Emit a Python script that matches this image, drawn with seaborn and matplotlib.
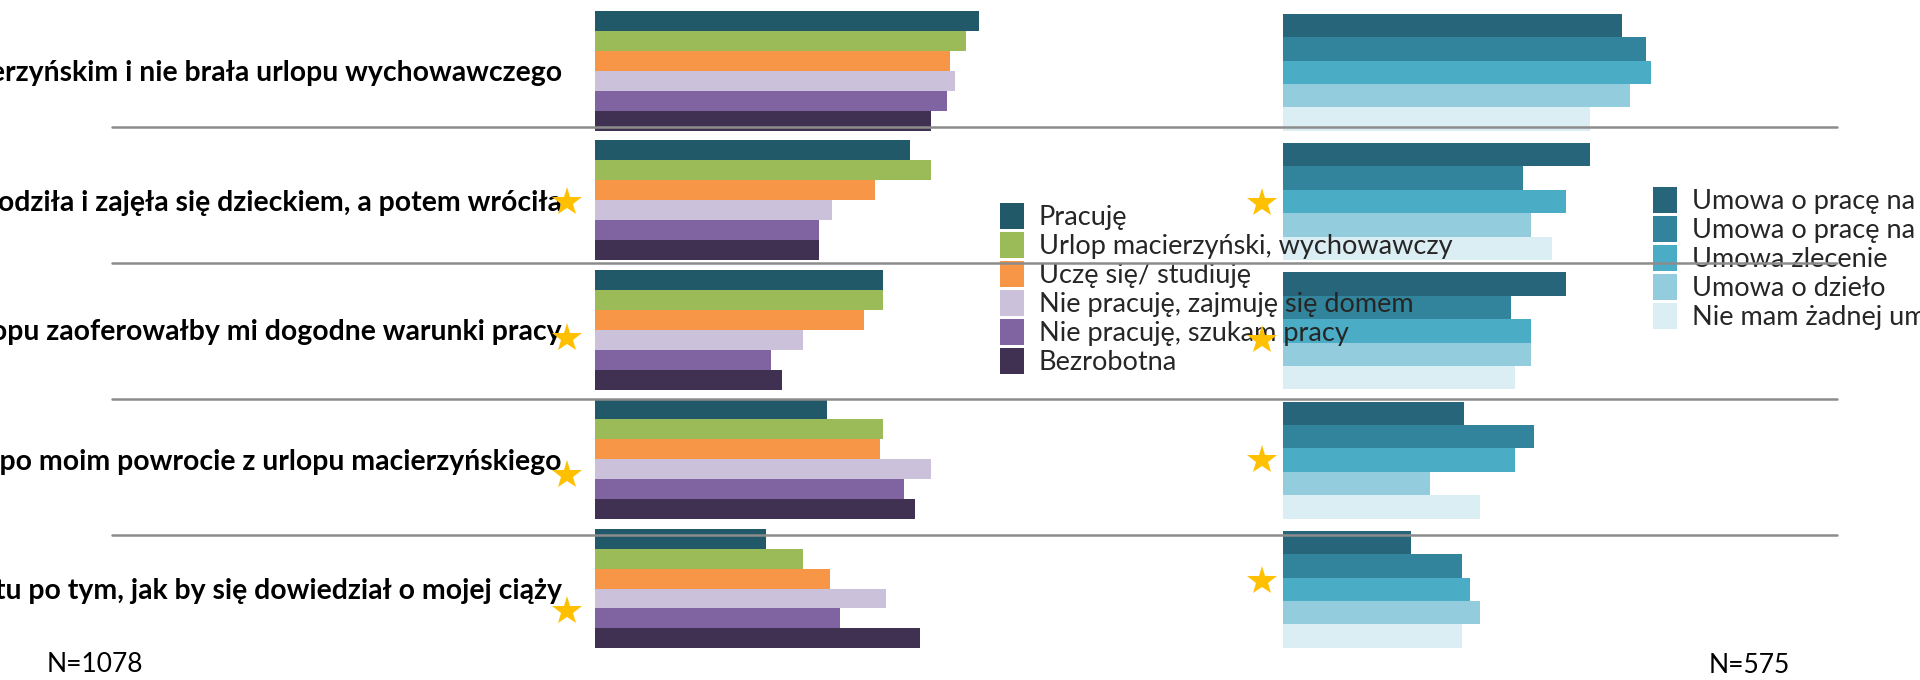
import numpy as np
import pandas as pd
import matplotlib
matplotlib.use("Agg")
import matplotlib.pyplot as plt
import seaborn as sns
from matplotlib.lines import Line2D
from matplotlib.patches import Patch

# ---------------- data ----------------
categories = [
    "Pracodawca wolałby, żebym była tylko na urlopie macierzyńskim i nie brała urlopu wychowawczego",
    "Pracodawca wolałby, żebym odeszła z pracy, urodziła i zajęła się dzieckiem, a potem wróciła",
    "Mój pracodawca po powrocie z urlopu zaoferowałby mi dogodne warunki pracy",
    "Pracodawca nie przedłużyłby mi umowy po moim powrocie z urlopu macierzyńskiego",
    "Pracodawca nie przedłużyłby mi kontraktu po tym, jak by się dowiedział o mojej ciąży",
]

left_series = ["Pracuję", "Urlop macierzyński, wychowawczy", "Uczę się/ studiuję",
               "Nie pracuję, zajmuję się domem", "Nie pracuję, szukam pracy", "Bezrobotna"]
pracuje    = [80.0, 65.6, 60.0, 48.3, 35.6]
urlop      = [77.3, 70.0, 60.0, 60.0, 43.3]
ucze       = [74.0, 58.3, 56.0, 59.4, 49.0]
dom        = [75.0, 49.4, 43.3, 70.0, 60.6]
szukam     = [73.3, 46.7, 36.7, 64.4, 51.0]
bezrobotna = [70.0, 46.7, 39.0, 66.7, 67.7]
left_values = [pracuje, urlop, ucze, dom, szukam, bezrobotna]

right_series = ["Umowa o pracę na czas nieokreślony", "Umowa o pracę na czas określony",
                "Umowa zlecenie", "Umowa o dzieło", "Nie mam żadnej umowy"]
nieokreslony = [70.6, 64.0, 59.0, 37.8, 26.7]
okreslony    = [75.6, 50.1, 47.4, 52.3, 37.3]
zlecenie     = [76.7, 59.0, 51.7, 48.3, 39.0]
dzielo       = [72.3, 51.7, 51.7, 30.6, 41.0]
brak         = [64.0, 56.0, 48.3, 41.0, 37.3]
right_values = [nieokreslony, okreslony, zlecenie, dzielo, brak]

significant_left = [False, True, True, True, True]
significant_right = [False, True, True, True, True]

n_left = "N=1078"
n_right = "N=575"

left_colors = ["#215968", "#9BBB59", "#F79646", "#CCC1DA", "#8064A2", "#403152"]
right_colors = ["#27667A", "#31849B", "#4BACC6", "#93CDDD", "#DBEEF4"]


def long_df(series, values):
    rows = []
    for s, vals in zip(series, values):
        for c, v in zip(categories, vals):
            rows.append({"kategoria": c, "seria": s, "wartosc": v})
    return pd.DataFrame(rows)


df_left = long_df(left_series, left_values)
df_right = long_df(right_series, right_values)

# ---------------- style ----------------
sns.set_theme(style="white")
plt.rcParams["font.family"] = ["Lato", "DejaVu Sans"]

W, H = 1920, 680
fig = plt.figure(figsize=(W / 100, H / 100), dpi=100)
fig.patch.set_facecolor("white")


def fx(px):
    return px / W


def fy(py):
    return 1 - py / H


ax1 = fig.add_axes([fx(595), fy(653.2), 480 / W, (653.2 - 6.2) / H])
ax2 = fig.add_axes([fx(1283), fy(654.0), 480 / W, (654.0 - 7.7) / H])

sns.barplot(data=df_left, y="kategoria", x="wartosc", hue="seria", orient="h",
            order=categories, hue_order=left_series, palette=left_colors,
            width=0.925, saturation=1, errorbar=None, linewidth=0,
            legend=False, ax=ax1)
sns.barplot(data=df_right, y="kategoria", x="wartosc", hue="seria", orient="h",
            order=categories, hue_order=right_series, palette=right_colors,
            width=0.905, saturation=1, errorbar=None, linewidth=0,
            legend=False, ax=ax2)

for ax in (ax1, ax2):
    ax.set_xlim(0, 100)
    ax.set_ylim(len(categories) - 0.5, -0.5)
    ax.set_xlabel("")
    ax.set_ylabel("")
    ax.set_xticks([])
    for sp in ax.spines.values():
        sp.set_visible(False)
    ax.set_facecolor("none")

ax1.set_yticks(range(len(categories)))
ax1.set_yticklabels(categories, fontweight="bold", fontsize=20.4, color="black")
ax1.tick_params(axis="y", length=0, pad=24)
ax2.set_yticks([])

# ---------------- legends ----------------
fs = 19.5
leg_kw = dict(frameon=False, fontsize=fs, handlelength=0.886, handleheight=1.10,
              handletextpad=0.55, labelspacing=0.067, borderpad=0, borderaxespad=0)
h_left = [Patch(facecolor=c, edgecolor="none", label=l) for c, l in zip(left_colors, left_series)]
fig.legend(handles=h_left, loc="upper left", bbox_to_anchor=(fx(1000), fy(203)), **leg_kw)

h_right = [Patch(facecolor=c, edgecolor="none", label=l) for c, l in zip(right_colors, right_series)]
fig.legend(handles=h_right, loc="upper left", bbox_to_anchor=(fx(1653), fy(187)), **leg_kw)

# ---------------- separators ----------------
for y in [127, 262.8, 398.5, 534.7]:
    fig.add_artist(Line2D([fx(112), fx(1837)], [fy(y), fy(y)], color="#8c8c8c",
                          lw=1.8, zorder=10, transform=fig.transFigure))

# ---------------- significance stars ----------------
star_y_left = [70, 202, 338, 475, 611]
star_y_right = [70, 203, 339.5, 459.7, 581]
for flag, y in zip(significant_left, star_y_left):
    if flag:
        fig.add_artist(Line2D([fx(567)], [fy(y)], marker="*", markersize=22, color="#FFC000",
                              markeredgewidth=0, linestyle="none", zorder=12,
                              transform=fig.transFigure))
for flag, y in zip(significant_right, star_y_right):
    if flag:
        fig.add_artist(Line2D([fx(1261.7)], [fy(y)], marker="*", markersize=22, color="#FFC000",
                              markeredgewidth=0, linestyle="none", zorder=12,
                              transform=fig.transFigure))

# ---------------- N labels ----------------
fig.text(fx(94.5), fy(665), n_left, ha="center", va="center", fontsize=19, color="black")
fig.text(fx(1749.6), fy(665.6), n_right, ha="center", va="center", fontsize=19, color="black")

fig.savefig("out.png", dpi=100, facecolor="white")
